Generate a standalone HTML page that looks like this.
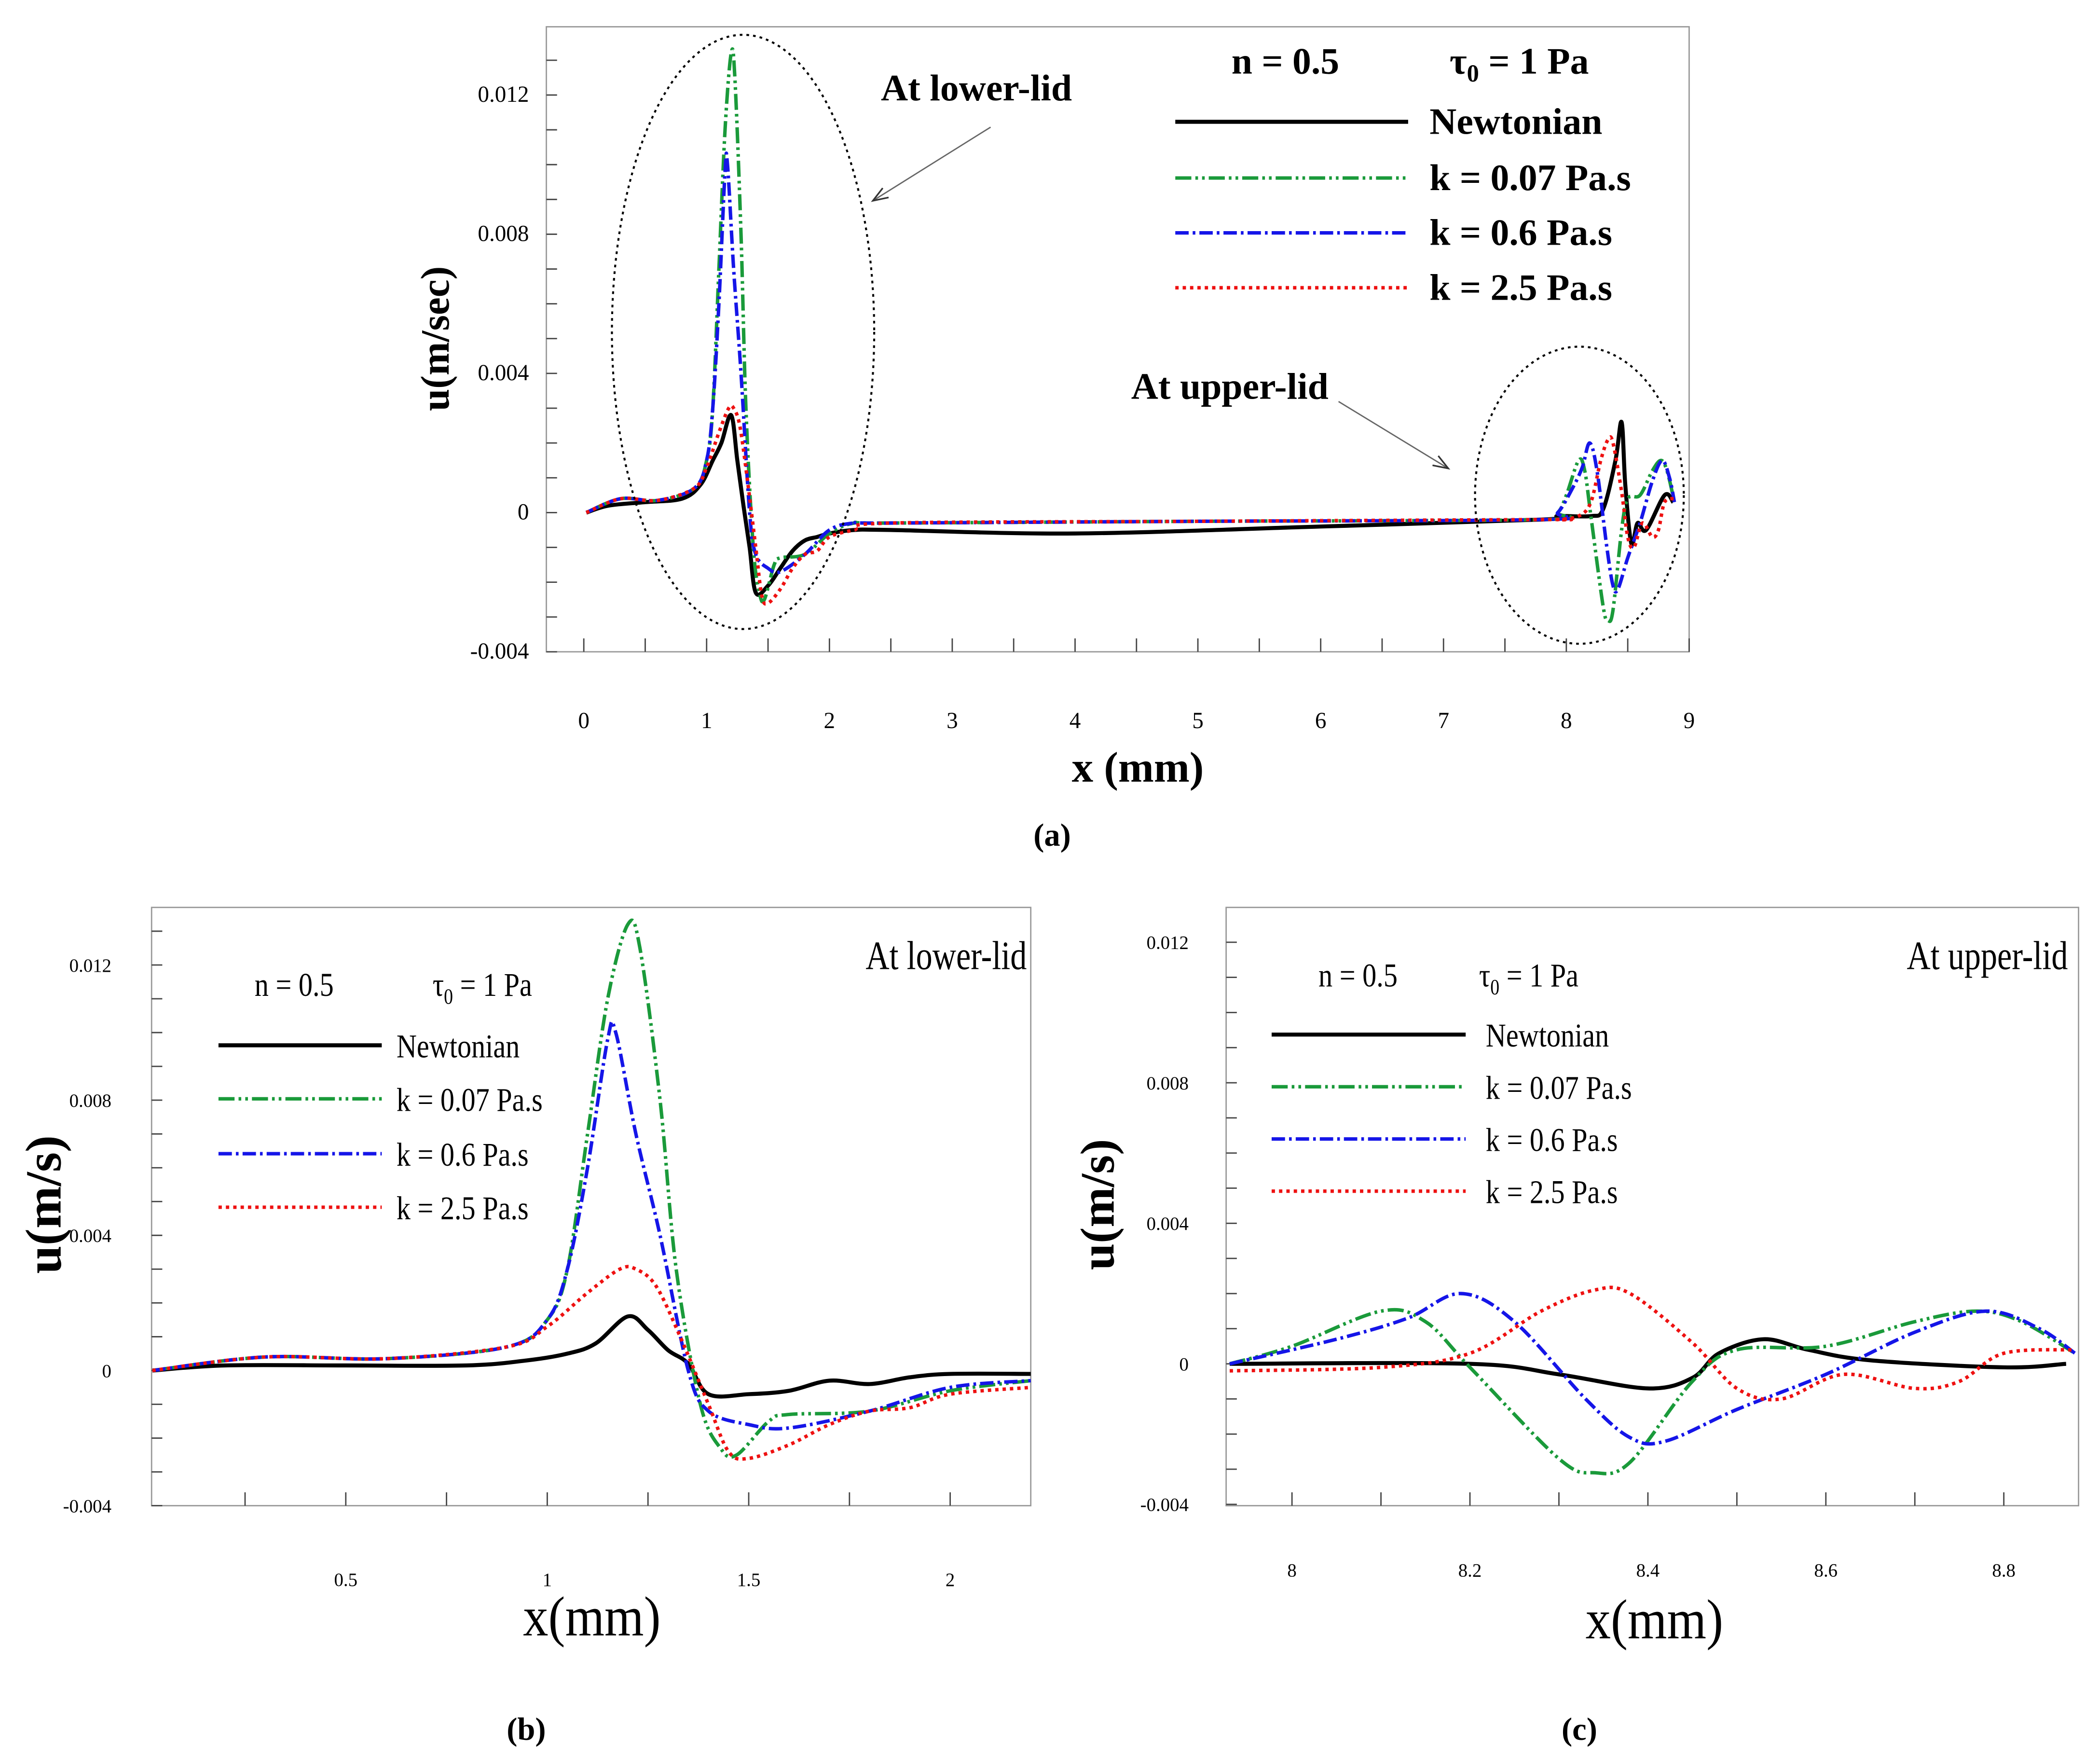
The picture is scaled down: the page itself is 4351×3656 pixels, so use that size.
<!DOCTYPE html>
<html><head><meta charset="utf-8"><style>
html,body{margin:0;padding:0;background:#fff}
svg{display:block}
text{font-family:"Liberation Serif",serif;fill:#000}
</style></head><body>
<svg id="fig" width="4351" height="3656" viewBox="0 0 1568 1318" xmlns="http://www.w3.org/2000/svg">
<rect width="1568" height="1318" fill="#fff"/>
</svg>
<script>
// ---- Panel (b) data: lower lid (x in mm, u in 1e-3 m/s)
const bNewtX=[0.02,0.2,0.5,0.8,0.95,1.05,1.12,1.2,1.25,1.3,1.35,1.4,1.5,1.6,1.7,1.8,1.9,2.0,2.2];
const bNewtY=[0,0.15,0.15,0.15,0.3,0.5,0.8,1.6,1.2,0.6,0.2,-0.7,-0.7,-0.6,-0.3,-0.4,-0.2,-0.1,-0.1];
const bGreenX=[0.02,0.3,0.6,0.9,1.0,1.05,1.1,1.15,1.2,1.23,1.28,1.32,1.38,1.43,1.47,1.55,1.6,1.8,2.0,2.2];
const bGreenY=[0,0.4,0.35,0.7,1.5,3,7,11,13.2,12.5,8,3,-1,-2.3,-2.5,-1.5,-1.3,-1.2,-0.6,-0.3];
const bBlueX=[0.02,0.3,0.6,0.9,1.0,1.05,1.1,1.15,1.17,1.22,1.28,1.35,1.4,1.5,1.6,1.8,2.0,2.2];
const bBlueY=[0,0.4,0.35,0.7,1.5,3,6,9.8,10,7,4,0,-1.2,-1.6,-1.7,-1.2,-0.5,-0.3];
const bRedX=[0.02,0.3,0.6,0.9,1.0,1.1,1.18,1.22,1.27,1.33,1.4,1.45,1.5,1.6,1.7,1.8,1.9,2.0,2.2];
const bRedY=[0,0.4,0.35,0.7,1.3,2.3,3.0,3.0,2.5,1,-1,-2.4,-2.6,-2.2,-1.6,-1.2,-1.1,-0.7,-0.5];
// ---- Panel (c) data: upper lid
const cNewtX=[7.93,8.2,8.3,8.4,8.45,8.48,8.53,8.58,8.65,8.8,8.87];
const cNewtY=[0,0,-0.3,-0.7,-0.4,0.3,0.7,0.4,0.1,-0.1,0];
const cGreenX=[7.93,8.0,8.1,8.15,8.2,8.3,8.34,8.38,8.45,8.5,8.6,8.7,8.77,8.82,8.88];
const cGreenY=[0,0.5,1.5,1.2,-0.1,-2.7,-3.1,-2.8,-0.5,0.4,0.5,1.2,1.5,1.2,0.3];
const cBlueX=[7.93,8.05,8.13,8.19,8.25,8.33,8.38,8.42,8.5,8.6,8.7,8.78,8.84,8.88];
const cBlueY=[0,0.7,1.3,2.0,1.2,-1.0,-2.1,-2.2,-1.3,-0.3,0.9,1.5,1.0,0.3];
const cRedX=[7.93,8.1,8.2,8.28,8.34,8.38,8.45,8.5,8.55,8.62,8.7,8.75,8.8,8.88];
const cRedY=[-0.2,-0.1,0.3,1.5,2.1,2.0,0.6,-0.7,-1.0,-0.3,-0.7,-0.5,0.3,0.4];
// ---- Panel (a) mid-domain data
const aNewtMidX=[2.5,4,6,7.8]; const aNewtMidY=[-0.5,-0.6,-0.4,-0.2];
const aOtherMidX=[2.5,5,7.8]; const aOtherMidY=[-0.3,-0.25,-0.2];
// ---- axis ticks
const aXTicks=[0,1,2,3,4,5,6,7,8,9];
const aYTicks=[-4,0,4,8,12];
const bXTicks=[0.5,1,1.5,2];
const cXTicks=[8,8.2,8.4,8.6,8.8];
const yTickLabels={"-4":"-0.004","0":"0","4":"0.004","8":"0.008","12":"0.012"};

const NS="http://www.w3.org/2000/svg";
const svg=document.getElementById('fig');
function el(tag,attrs,parent,txt){const e=document.createElementNS(NS,tag);for(const k in attrs)e.setAttribute(k,attrs[k]);if(txt!==undefined)e.textContent=txt;(parent||svg).appendChild(e);return e;}
function condense(t,f){const w=t.getComputedTextLength();if(w>0){t.setAttribute('textLength',(w*f).toFixed(1));t.setAttribute('lengthAdjust','spacingAndGlyphs');}}
function smoothPath(pts){let d=`M${pts[0][0]},${pts[0][1]}`;for(let i=0;i<pts.length-1;i++){const p0=pts[i-1]||pts[i],p1=pts[i],p2=pts[i+1],p3=pts[i+2]||p2;const c1=[p1[0]+(p2[0]-p0[0])/6,p1[1]+(p2[1]-p0[1])/6],c2=[p2[0]-(p3[0]-p1[0])/6,p2[1]-(p3[1]-p1[1])/6];d+=` C${c1[0]},${c1[1]} ${c2[0]},${c2[1]} ${p2[0]},${p2[1]}`;}return d;}
const styles={newt:{stroke:'#000',dash:'',w:3},green:{stroke:'#1a9a3a',dash:'12,3,2,3,2,3',w:2.6},blue:{stroke:'#1515e8',dash:'10,3,2,3',w:2.6},red:{stroke:'#ee1111',dash:'2.5,3',w:2.6}};

function panel(P){
  const g=el('g',{});
  
  
  const sx=x=>P.x0+(x-P.xmin)/(P.xmax-P.xmin)*(P.x1-P.x0);
  const sy=v=>P.yz+(-v)*P.py;
  const box=el('rect',{x:P.x0,y:P.y0,width:P.x1-P.x0,height:P.y1-P.y0,fill:'none',stroke:'#999','stroke-width':1},g);
  
  
  for(let v=-4;v<=13;v++){const y=sy(v);if(y<P.y0||y>P.y1)continue;el('line',{x1:P.x0,x2:P.x0+8,y1:y,y2:y,stroke:'#444','stroke-width':1},g);}
  aYTicks.forEach(v=>{const t=el('text',{x:P.x0-P.ylOff,y:sy(v)+5,'text-anchor':'end','font-size':P.tfs},g,yTickLabels[v]);});
  for(let x=P.minorStart;x<=P.xmax+1e-9;x+=P.minor){const X=sx(x);if(X<P.x0||X>P.x1)continue;el('line',{x1:X,x2:X,y1:P.y1,y2:P.y1-10,stroke:'#444','stroke-width':1},g);}
  P.xt.forEach(v=>{const t=el('text',{x:sx(v),y:P.xly,'text-anchor':'middle','font-size':P.tfs},g,String(v));});
  P.series.forEach(s=>{const pts=s.X.map((x,i)=>[sx(x),sy(s.Y[i])]);const st=styles[s.k];const p=el('path',{d:smoothPath(pts),fill:'none',stroke:st.stroke,'stroke-width':st.w,'stroke-dasharray':st.dash,'stroke-linejoin':'round'},g);});
  return g;
}
const aNewtX=bNewtX.concat(aNewtMidX,cNewtX), aNewtY=[0,0.2,0.3,0.4,0.8,1.5,2.0,2.8,1.5,0.2,-1,-2.3,-2.1,-1.6,-1.1,-0.8,-0.7,-0.6,-0.5].concat(aNewtMidY,[-0.1,-0.1,0.1,1.5,2.6,0.8,-0.9,-0.3,-0.5,0.5,0.3]);
panel({name:'panel-a',x0:408,x1:1262,y0:20,y1:487,xmin:-0.305,xmax:9,yz:383,py:26,tfs:17,ylOff:13,xly:544,minor:0.5,minorStart:0,xt:aXTicks,
 series:[{k:'newt',X:aNewtX,Y:aNewtY},{k:'green',X:bGreenX.concat(aOtherMidX,cGreenX),Y:bGreenY.concat(aOtherMidY,cGreenY)},
 {k:'blue',X:bBlueX.concat(aOtherMidX,cBlueX),Y:bBlueY.concat(aOtherMidY,cBlueY)},{k:'red',X:bRedX.concat(aOtherMidX,cRedX),Y:bRedY.concat(aOtherMidY,cRedY)}]});
panel({name:'panel-b',x0:113,x1:770,y0:678,y1:1125,xmin:0.018,xmax:2.2,yz:1024,py:25.25,tfs:14,ylOff:30,xly:1185,minor:0.25,minorStart:0.25,xt:bXTicks,
 series:[{k:'newt',X:bNewtX,Y:bNewtY},{k:'green',X:bGreenX,Y:bGreenY},{k:'blue',X:bBlueX,Y:bBlueY},{k:'red',X:bRedX,Y:bRedY}]});
panel({name:'panel-c',x0:916,x1:1553,y0:678,y1:1125,xmin:7.926,xmax:8.884,yz:1019,py:26.25,tfs:14,ylOff:28,xly:1178,minor:0.1,minorStart:8,xt:cXTicks,
 series:[{k:'newt',X:cNewtX,Y:cNewtY},{k:'green',X:cGreenX,Y:cGreenY},{k:'blue',X:cBlueX,Y:cBlueY},{k:'red',X:cRedX,Y:cRedY}]});

function legend(name,x1,x2,tx,ys,fs,hdr,cf,bold){
  const g=el('g',{});
  const fw=bold?'bold':'normal';
  const t1=el('text',{x:hdr[0],y:hdr[2],'font-size':fs,'font-weight':fw},g,'n = 0.5');
  if(cf)condense(t1,cf);
  const t2=el('text',{x:hdr[1],y:hdr[2],'font-size':fs,'font-weight':fw},g);
  t2.innerHTML='τ<tspan font-size="'+(fs*0.65)+'" dy="6">0</tspan><tspan dy="-6"> = 1 Pa</tspan>';
  if(cf)condense(t2,cf);
  const labs=['Newtonian','k = 0.07 Pa.s','k = 0.6 Pa.s','k = 2.5 Pa.s'],ks=['newt','green','blue','red'];
  ks.forEach((k,i)=>{const st=styles[k];el('line',{x1:x1,x2:x2,y1:ys[i],y2:ys[i],stroke:st.stroke,'stroke-width':st.w,'stroke-dasharray':st.dash},g);const t=el('text',{x:tx,y:ys[i]+9,'font-size':fs,'font-weight':fw},g,labs[i]);if(cf)condense(t,cf);});
}
legend('legend-a',878,1052,1068,[91,133,174,215],28,[920,1083,55],0,true);
legend('legend-b',163,285,296,[781,821,862,902],25,[190,323,744],0.84,false);
legend('legend-c',950,1095,1110,[773,812,851,890],25,[985,1105,737],0.84,false);

function txt(name,x,y,s,fs,extra){const t=el('text',Object.assign({x:x,y:y,'font-size':fs},extra||{}),svg,s);return t;}
txt('x-axis-title-a',850,584,'x (mm)',32,{'text-anchor':'middle','font-weight':'bold'});
txt('y-axis-title-a',0,0,'u(m/sec)',30,{'text-anchor':'middle',transform:'translate(335,253) rotate(-90)','font-weight':'bold'});
txt('caption-a',786,632,'(a)',24,{'text-anchor':'middle','font-weight':'bold'});
condense(txt('x-axis-title-b',442,1222,'x(mm)',42,{'text-anchor':'middle'}),0.9);
txt('y-axis-title-b',0,0,'u(m/s)',38,{'text-anchor':'middle',transform:'translate(45,900) rotate(-90)','font-weight':'bold'});
txt('caption-b',393,1300,'(b)',24,{'text-anchor':'middle','font-weight':'bold'});
condense(txt('x-axis-title-c',1236,1224,'x(mm)',42,{'text-anchor':'middle'}),0.9);
txt('y-axis-title-c',0,0,'u(m/s)',36,{'text-anchor':'middle',transform:'translate(832,900) rotate(-90)','font-weight':'bold'});
txt('caption-c',1180,1300,'(c)',24,{'text-anchor':'middle','font-weight':'bold'});
txt('annotation-lower-lid-a',658,75,'At lower-lid',28,{'font-weight':'bold'});
txt('annotation-upper-lid-a',845,298,'At upper-lid',28,{'font-weight':'bold'});
condense(txt('annotation-lower-lid-b',767,724,'At lower-lid',30,{'text-anchor':'end'}),0.82);
condense(txt('annotation-upper-lid-c',1545,724,'At upper-lid',30,{'text-anchor':'end'}),0.82);
const e1=el('ellipse',{cx:555,cy:248,rx:98,ry:222,fill:'none',stroke:'#000','stroke-dasharray':'2,3','stroke-width':1.5});

const e2=el('ellipse',{cx:1180,cy:370,rx:78,ry:111,fill:'none',stroke:'#000','stroke-dasharray':'2,3','stroke-width':1.5});

[[740,95,652,150],[1000,300,1082,350]].forEach(a=>{const g=el('g',{});
 el('line',{x1:a[0],y1:a[1],x2:a[2],y2:a[3],stroke:'#666','stroke-width':1},g);
 const ang=Math.atan2(a[3]-a[1],a[2]-a[0]),L=12;
 const p1=[a[2]-L*Math.cos(ang-0.35),a[3]-L*Math.sin(ang-0.35)],p2=[a[2]-L*Math.cos(ang+0.35),a[3]-L*Math.sin(ang+0.35)];
 el('polyline',{points:`${p1} ${a[2]},${a[3]} ${p2}`,fill:'none',stroke:'#333','stroke-width':1.2},g);});
</script>
</body></html>
